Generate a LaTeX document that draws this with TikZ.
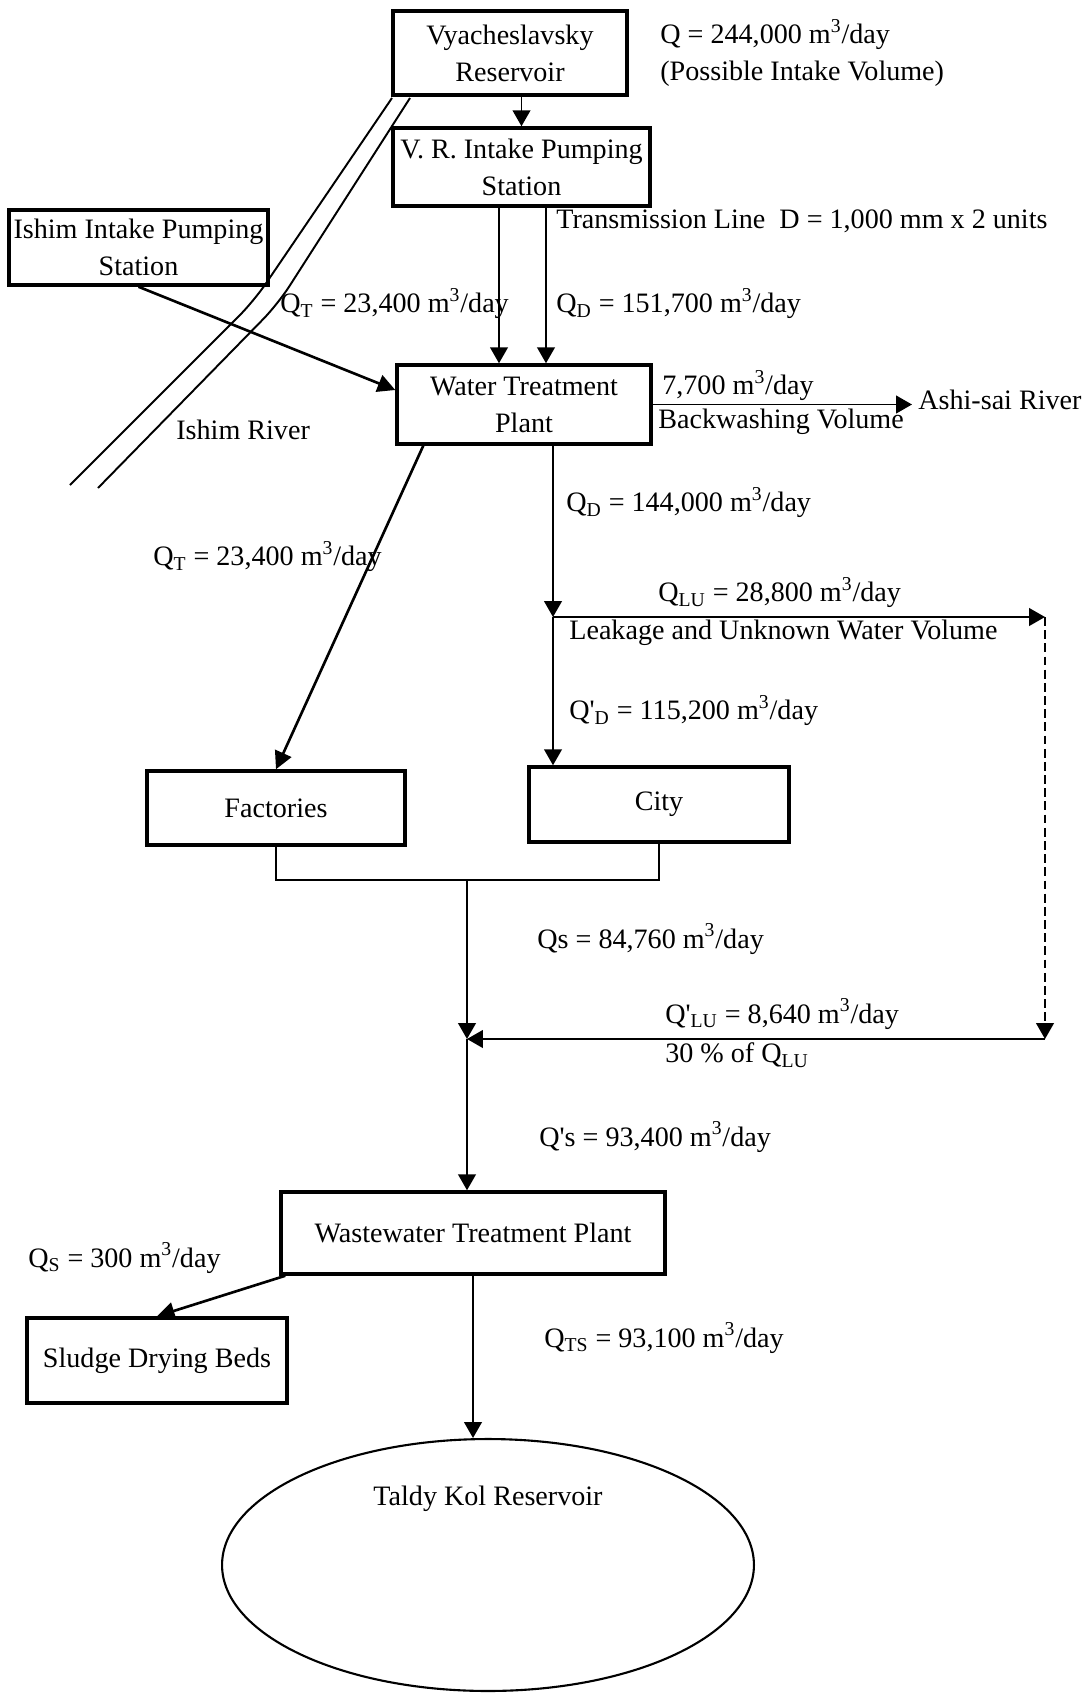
\documentclass[tikz,border=0pt]{standalone}
\usepackage{fontspec}
\setmainfont{Liberation Serif}
\usepackage{tikz}
\usetikzlibrary{shapes,arrows.meta,calc}

\begin{document}
\begin{tikzpicture}[x=0.02cm, y=-0.02cm,
    every node/.style={font=\fontsize{16}{21}\selectfont},
    box/.style={draw, line width=2pt, align=center, inner sep=1pt},
    lbl/.style={anchor=west, inner sep=0pt, align=left},
    flow/.style={line width=1.1pt, -{Triangle[length=9pt,width=10pt]}},
    thickflow/.style={line width=1.5pt, -{Triangle[length=10pt,width=10pt]}},
    pipe/.style={line width=1.1pt}]
        \useasboundingbox (0,0) rectangle (1085,1697);

        % Boxes
        \node[box, minimum width=4.68cm, minimum height=1.68cm] (vyres) at (510,53) {Vyacheslavsky\\Reservoir};
        \node[box, minimum width=5.14cm, minimum height=1.56cm] (vrips) at (521.5,167) {V. R. Intake Pumping\\Station};
        \node[box, minimum width=5.18cm, minimum height=1.5cm] (iips) at (138.5,247.5) {Ishim Intake Pumping\\Station};
        \node[box, minimum width=5.08cm, minimum height=1.58cm] (wtp) at (524,404.5) {Water Treatment\\Plant};
        \node[box, minimum width=5.16cm, minimum height=1.48cm] (fact) at (276,808) {Factories};
        \node[box, minimum width=5.2cm, minimum height=1.5cm] (city) at (659,804.5) {City};
        \node[box, minimum width=7.68cm, minimum height=1.64cm] (wwtp) at (473,1233) {Wastewater Treatment Plant};
        \node[box, minimum width=5.2cm, minimum height=1.7cm] (sdb) at (157,1360.5) {Sludge Drying Beds};
        \node[draw, ellipse, line width=1.2pt, minimum width=10.64cm, minimum height=5.04cm,
            label={[anchor=center, yshift=-1.22cm]north:Taldy Kol Reservoir}] (tkr) at (488,1565) {};

        % River
        \draw[pipe, rounded corners=12pt] (392,98) -- (254,301) -- (70,485);
        \draw[pipe, rounded corners=12pt] (410,98) -- (278,304) -- (98,488);
        \node[lbl] (river) at (176,430) {Ishim River};

        % Labels
        \node[lbl] (qres) at (660,53) {Q = 244,000 m\textsuperscript{3}/day\\(Possible Intake Volume)};
        \node[lbl] (trans) at (556,221) {Transmission Line\ \ D = 1,000 mm x 2 units};
        \node[lbl] (qt1) at (280,304) {Q\textsubscript{T} = 23,400 m\textsuperscript{3}/day};
        \node[lbl] (qd1) at (556,304) {Q\textsubscript{D} = 151,700 m\textsuperscript{3}/day};
        \node[lbl] (bw1) at (662,386) {7,700 m\textsuperscript{3}/day};
        \node[lbl] (bw2) at (658,422) {Backwashing Volume};
        \node[lbl] (ashi) at (918,400) {Ashi-sai River};
        \node[lbl] (qt2) at (153,557) {Q\textsubscript{T} = 23,400 m\textsuperscript{3}/day};
        \node[lbl] (qd2) at (566,503) {Q\textsubscript{D} = 144,000 m\textsuperscript{3}/day};
        \node[lbl] (qlu) at (658,593) {Q\textsubscript{LU} = 28,800 m\textsuperscript{3}/day};
        \node[lbl] (leak) at (569,633) {Leakage and Unknown Water Volume};
        \node[lbl] (qdp) at (569,711) {Q\textquotesingle\textsubscript{D} = 115,200 m\textsuperscript{3}/day};
        \node[lbl] (qs) at (537,939) {Qs = 84,760 m\textsuperscript{3}/day};
        \node[lbl] (qlup) at (665,1014) {Q\textquotesingle\textsubscript{LU} = 8,640 m\textsuperscript{3}/day};
        \node[lbl] (pct) at (665,1055) {30 \% of Q\textsubscript{LU}};
        \node[lbl] (qsp) at (539,1137) {Q\textquotesingle s = 93,400 m\textsuperscript{3}/day};
        \node[lbl] (qsl) at (28,1258) {Q\textsubscript{S} = 300 m\textsuperscript{3}/day};
        \node[lbl] (qts) at (544,1338) {Q\textsubscript{TS} = 93,100 m\textsuperscript{3}/day};

        % Junctions
        \coordinate (lk) at (553,617);
        \coordinate (lkend) at (1045,617);
        \coordinate (sj) at (467,880);
        \coordinate (lrj) at (467,1039);

        % Flows
        \draw[flow] (vrips.north |- vyres.south) -- (vrips.north);
        \draw[flow] ([xshift=-0.45cm]vrips.south) -- ([xshift=-0.45cm]vrips.south |- wtp.north);
        \draw[flow] ([xshift=0.49cm]vrips.south) -- ([xshift=0.49cm]vrips.south |- wtp.north);
        \draw[thickflow] (iips.south) -- ([yshift=0.29cm]wtp.west);
        \draw[flow] (wtp.east) -- ([xshift=-0.12cm]ashi.west |- wtp.east);
        \draw[thickflow] ([xshift=0.56cm]wtp.south west) -- (fact.north);
        \draw[flow] (wtp.south -| lk) -- (lk);
        \draw[flow] (lk) -- (lkend);
        \draw[flow, dash pattern=on 5pt off 2.5pt] (lkend) -- (lkend |- lrj);
        \draw[flow] (lk) -- (lk |- city.north);
        \draw[pipe] (fact.south) -- (fact.south |- sj) -- (city.south |- sj) -- (city.south);
        \draw[flow] (sj) -- (lrj);
        \draw[flow] (lkend |- lrj) -- (lrj);
        \draw[flow] (lrj) -- (lrj |- wwtp.north);
        \draw[thickflow] ([xshift=0.12cm]wwtp.south west) -- (sdb.north);
        \draw[flow] (wwtp.south) -- (wwtp.south |- tkr.north);
    \end{tikzpicture}
\end{document}
